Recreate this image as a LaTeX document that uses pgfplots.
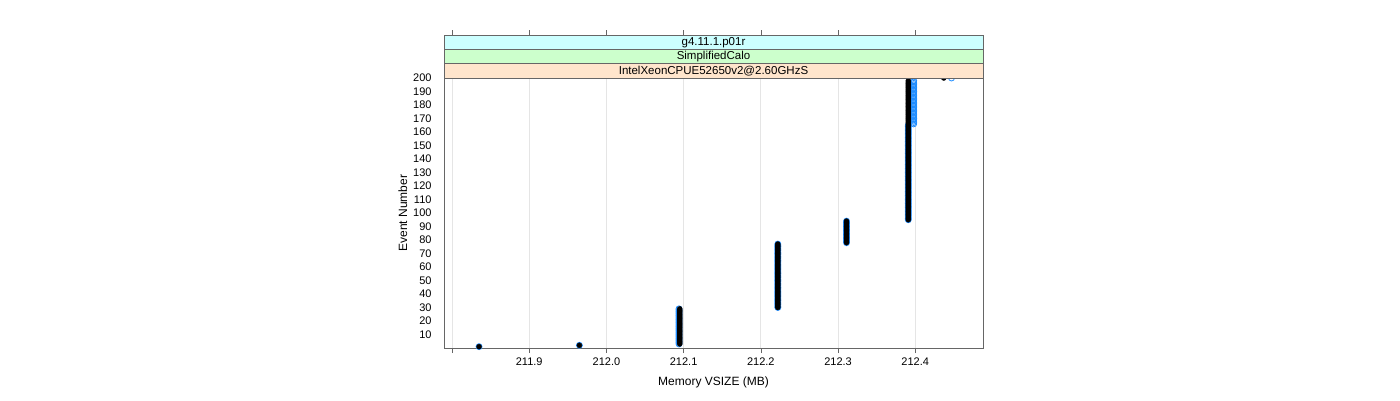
\documentclass[border=0pt]{standalone}
\usepackage{fontspec}
\setmainfont{Liberation Sans}
\usepackage{pgfplots}
\usepackage{pgfplotstable}
\pgfplotsset{compat=1.18}
\definecolor{stripA}{HTML}{FFE5CC}
\definecolor{stripB}{HTML}{CCFFCC}
\definecolor{stripC}{HTML}{CCFFFF}
\definecolor{blueR}{HTML}{1E8CFF}
\pgfplotstableread[row sep=\\]{
ev xb xu\\
1 211.835 211.835\\ 2 211.965 211.965\\
3 212.095 212.094\\ 4 212.095 212.094\\ 5 212.095 212.094\\ 6 212.095 212.094\\ 7 212.095 212.094\\
8 212.095 212.094\\ 9 212.095 212.094\\ 10 212.095 212.094\\ 11 212.095 212.094\\ 12 212.095 212.094\\
13 212.095 212.094\\ 14 212.095 212.094\\ 15 212.095 212.094\\ 16 212.095 212.094\\ 17 212.095 212.094\\
18 212.095 212.094\\ 19 212.095 212.094\\ 20 212.095 212.094\\ 21 212.095 212.094\\ 22 212.095 212.094\\
23 212.095 212.094\\ 24 212.095 212.094\\ 25 212.095 212.094\\ 26 212.095 212.094\\ 27 212.095 212.094\\
28 212.095 212.094\\ 29 212.095 212.094\\
30 212.222 212.222\\ 31 212.222 212.222\\ 32 212.222 212.222\\ 33 212.222 212.222\\ 34 212.222 212.222\\
35 212.222 212.222\\ 36 212.222 212.222\\ 37 212.222 212.222\\ 38 212.222 212.222\\ 39 212.222 212.222\\
40 212.222 212.222\\ 41 212.222 212.222\\ 42 212.222 212.222\\ 43 212.222 212.222\\ 44 212.222 212.222\\
45 212.222 212.222\\ 46 212.222 212.222\\ 47 212.222 212.222\\ 48 212.222 212.222\\ 49 212.222 212.222\\
50 212.222 212.222\\ 51 212.222 212.222\\ 52 212.222 212.222\\ 53 212.222 212.222\\ 54 212.222 212.222\\
55 212.222 212.222\\ 56 212.222 212.222\\ 57 212.222 212.222\\ 58 212.222 212.222\\ 59 212.222 212.222\\
60 212.222 212.222\\ 61 212.222 212.222\\ 62 212.222 212.222\\ 63 212.222 212.222\\ 64 212.222 212.222\\
65 212.222 212.222\\ 66 212.222 212.222\\ 67 212.222 212.222\\ 68 212.222 212.222\\ 69 212.222 212.222\\
70 212.222 212.222\\ 71 212.222 212.222\\ 72 212.222 212.222\\ 73 212.222 212.222\\ 74 212.222 212.222\\
75 212.222 212.222\\ 76 212.222 212.222\\ 77 212.222 212.222\\
78 212.311 212.311\\ 79 212.311 212.311\\ 80 212.311 212.311\\ 81 212.311 212.311\\ 82 212.311 212.311\\
83 212.311 212.311\\ 84 212.311 212.311\\ 85 212.311 212.311\\ 86 212.311 212.311\\ 87 212.311 212.311\\
88 212.311 212.311\\ 89 212.311 212.311\\ 90 212.311 212.311\\ 91 212.311 212.311\\ 92 212.311 212.311\\
93 212.311 212.311\\ 94 212.311 212.311\\
95 212.391 212.391\\ 96 212.391 212.391\\ 97 212.391 212.391\\ 98 212.391 212.391\\ 99 212.391 212.391\\
100 212.391 212.391\\ 101 212.391 212.391\\ 102 212.391 212.391\\ 103 212.391 212.391\\ 104 212.391 212.391\\
105 212.391 212.391\\ 106 212.391 212.391\\ 107 212.391 212.391\\ 108 212.391 212.391\\ 109 212.391 212.391\\
110 212.391 212.391\\ 111 212.391 212.391\\ 112 212.391 212.391\\ 113 212.391 212.391\\ 114 212.391 212.391\\
115 212.391 212.391\\ 116 212.391 212.391\\ 117 212.391 212.391\\ 118 212.391 212.391\\ 119 212.391 212.391\\
120 212.391 212.391\\ 121 212.391 212.391\\ 122 212.391 212.391\\ 123 212.391 212.391\\ 124 212.391 212.391\\
125 212.391 212.391\\ 126 212.391 212.391\\ 127 212.391 212.391\\ 128 212.391 212.391\\ 129 212.391 212.391\\
130 212.391 212.391\\ 131 212.391 212.391\\ 132 212.391 212.391\\ 133 212.391 212.391\\ 134 212.391 212.391\\
135 212.391 212.391\\ 136 212.391 212.391\\ 137 212.391 212.391\\ 138 212.391 212.391\\ 139 212.391 212.391\\
140 212.391 212.391\\ 141 212.391 212.391\\ 142 212.391 212.391\\ 143 212.391 212.391\\ 144 212.391 212.391\\
145 212.391 212.391\\ 146 212.391 212.391\\ 147 212.391 212.391\\ 148 212.391 212.391\\ 149 212.391 212.391\\
150 212.391 212.391\\ 151 212.391 212.391\\ 152 212.391 212.391\\ 153 212.391 212.391\\ 154 212.391 212.391\\
155 212.391 212.391\\ 156 212.391 212.391\\ 157 212.391 212.391\\ 158 212.391 212.391\\ 159 212.391 212.391\\
160 212.391 212.391\\ 161 212.391 212.391\\ 162 212.391 212.391\\ 163 212.391 212.391\\ 164 212.391 212.391\\
165 212.391 212.391\\
166 212.391 212.398\\ 167 212.391 212.398\\ 168 212.391 212.398\\ 169 212.391 212.398\\ 170 212.391 212.398\\
171 212.391 212.398\\ 172 212.391 212.398\\ 173 212.391 212.398\\ 174 212.391 212.398\\ 175 212.391 212.398\\
176 212.391 212.398\\ 177 212.391 212.398\\ 178 212.391 212.398\\ 179 212.391 212.398\\ 180 212.391 212.398\\
181 212.391 212.398\\ 182 212.391 212.398\\ 183 212.391 212.398\\ 184 212.391 212.398\\ 185 212.391 212.398\\
186 212.391 212.398\\ 187 212.391 212.398\\ 188 212.391 212.398\\ 189 212.391 212.398\\ 190 212.391 212.398\\
191 212.391 212.398\\ 192 212.391 212.398\\ 193 212.391 212.398\\ 194 212.391 212.398\\ 195 212.391 212.398\\
196 212.391 212.398\\ 197 212.391 212.398\\ 198 212.391 212.398\\
200 212.437 212.447\\
}\evtable
\begin{document}
\begin{tikzpicture}
\path (0pt,0pt) rectangle (1400pt,400pt);
\begin{axis}[
  name=ax,
  at={(444pt,52pt)}, anchor=south west,
  width=539pt, height=270pt, scale only axis,
  xmin=211.7896, xmax=212.4878, ymin=0, ymax=200,
  xtick={211.8,211.9,212.0,212.1,212.2,212.3,212.4},
  xticklabels={,211.9,212.0,212.1,212.2,212.3,212.4},
  ytick={10,20,...,200},
  xtick pos=bottom, ytick pos=left,
  tick align=outside, major tick length=5pt,
  x tick style={draw=black!60, line width=0.6pt},
  y tick style={draw=none},
  yticklabel style={xshift=-4pt},
  xticklabel style={yshift=-1pt},
  axis line style={draw=black!60, line width=0.6pt},
  xmajorgrids, major grid style={draw=black!10, line width=0.7pt},
  tick label style={font=\fontsize{11}{12}\selectfont},
  /pgf/number format/assume math mode=true,
  xlabel={Memory VSIZE (MB)},
  ylabel={Event Number},
  label style={font=\fontsize{12}{13}\selectfont},
  xlabel style={yshift=-5pt},
  ylabel style={yshift=-1pt},
]
\addplot[only marks, mark=o, mark size=3.0pt, mark options={draw=blueR, line width=0.8pt}] table[x=xu, y=ev] {\evtable};
\addplot[only marks, mark=*, mark size=2.5pt, mark options={fill=black, draw=black}] table[x=xb, y=ev] {\evtable};
\end{axis}
\draw[draw=black!60, line width=0.6pt, fill=stripA] (444pt,322pt) rectangle (983pt,336.4pt);
\draw[draw=black!60, line width=0.6pt, fill=stripB] (444pt,336.4pt) rectangle (983pt,350.7pt);
\draw[draw=black!60, line width=0.6pt, fill=stripC] (444pt,350.7pt) rectangle (983pt,365pt);
\node[font=\fontsize{11.5}{12}\selectfont, inner sep=0pt] at (713.5pt,329.2pt) {IntelXeonCPUE52650v2@2.60GHzS};
\node[font=\fontsize{11.5}{12}\selectfont, inner sep=0pt] at (713.5pt,343.5pt) {SimplifiedCalo};
\node[font=\fontsize{11.5}{12}\selectfont, inner sep=0pt] at (713.5pt,357.8pt) {g4.11.1.p01r};
\foreach \px in {452,529.2,606.4,683.6,760.8,838,915.2}{
  \draw[draw=black!60, line width=0.6pt] (\px pt,365pt) -- (\px pt,370pt);
}
\end{tikzpicture}
\end{document}
